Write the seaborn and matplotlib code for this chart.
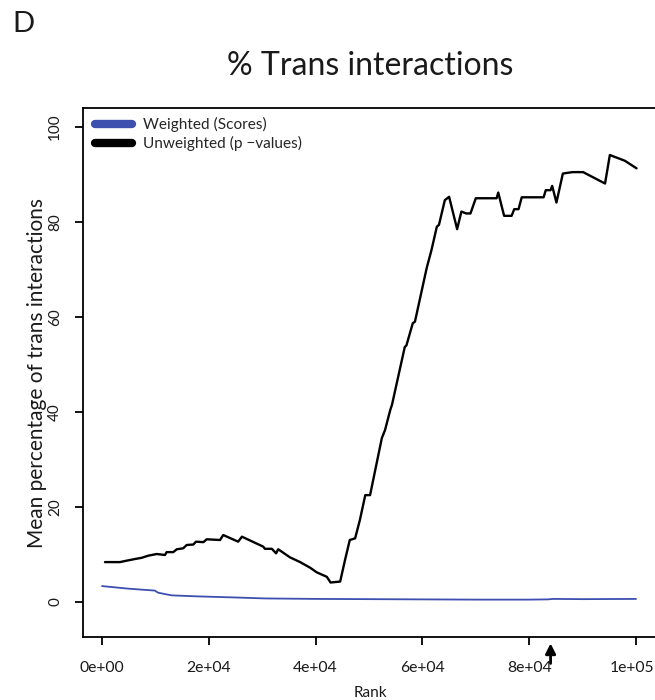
import matplotlib
matplotlib.use("Agg")
import matplotlib.pyplot as plt
import matplotlib.transforms as mtransforms
import seaborn as sns
import pandas as pd
from matplotlib.lines import Line2D

# ---- data ----
unweighted_rank = [560, 3370, 4620, 6180, 7420, 8670, 10240, 11800, 12100, 13350, 14000,
                   15200, 15860, 17100, 17600, 19000, 19600, 22100, 22700, 25500, 26200,
                   30200, 30500, 31800, 32600, 33000, 35200, 37100, 39000, 40200, 42100,
                   42800, 44600, 45500, 46400, 47400, 48300, 49300, 50200, 52400, 53000,
                   54000, 54300, 56700, 57000, 58200, 58600, 60800, 61700, 62700, 63100,
                   64200, 65000, 66500, 67300, 68200, 69000, 70000, 73900, 74200, 75300,
                   76700, 77200, 78000, 78600, 82700, 83100, 84000, 84300, 85100, 86300,
                   88100, 90100, 94200, 95100, 97900, 100100]
unweighted_pct = [8.4, 8.4, 8.7, 9.05, 9.3, 9.75, 10.1, 9.9, 10.5, 10.5, 11.1,
                  11.3, 12.0, 12.1, 12.7, 12.6, 13.2, 13.05, 14.1, 12.7, 13.75,
                  11.65, 11.2, 11.2, 10.25, 11.1, 9.4, 8.4, 7.2, 6.25, 5.3,
                  4.1, 4.3, 8.8, 13.05, 13.4, 17.3, 22.5, 22.5, 34.5, 36.2,
                  40.5, 41.5, 53.7, 54.0, 58.7, 59.0, 70.3, 74.1, 79.0, 79.4,
                  84.6, 85.3, 78.5, 82.2, 81.8, 81.8, 85.0, 85.0, 86.2, 81.3,
                  81.3, 82.7, 82.7, 85.2, 85.2, 86.7, 86.7, 87.6, 84.1, 90.2,
                  90.5, 90.5, 88.1, 94.1, 92.9, 91.3]

weighted_rank = [0, 5000, 9900, 10500, 13000, 17400, 25000, 30500, 40000, 50000,
                 60000, 70000, 80000, 83500, 84500, 90000, 100000]
weighted_pct = [3.35, 2.8, 2.4, 1.96, 1.4, 1.2, 0.95, 0.75, 0.65, 0.6,
                0.55, 0.5, 0.5, 0.55, 0.65, 0.6, 0.65]

series_labels = ["Weighted (Scores)", "Unweighted (p \u2212values)"]
x_ticks = [0, 20000, 40000, 60000, 80000, 100000]
x_tick_labels = ["0e+00", "2e+04", "4e+04", "6e+04", "8e+04", "1e+05"]
y_ticks = [0, 20, 40, 60, 80, 100]
arrow_rank = 84000

# ---- plotting ----
sns.set_theme(style="white")
plt.rcParams["font.family"] = ["Lato", "DejaVu Sans"]
TXT = "#1a1a1a"

df = pd.concat([
    pd.DataFrame({"rank": weighted_rank, "pct": weighted_pct, "series": series_labels[0]}),
    pd.DataFrame({"rank": unweighted_rank, "pct": unweighted_pct, "series": series_labels[1]}),
])

blue = "#3D4FAF"
palette = {series_labels[0]: blue, series_labels[1]: "black"}

fig = plt.figure(figsize=(6.55, 7.0), dpi=100)
W, H = 655, 700
left, right, top, bottom = 83, 657, 108, 637
ax = fig.add_axes([left / W, 1 - bottom / H, (right - left) / W, (bottom - top) / H])

sns.lineplot(data=df[df.series == series_labels[0]], x="rank", y="pct", color=blue,
             estimator=None, sort=False, linewidth=1.3, ax=ax, legend=False)
sns.lineplot(data=df[df.series == series_labels[1]], x="rank", y="pct", color="black",
             estimator=None, sort=False, linewidth=1.7, ax=ax, legend=False)

ax.set_xlim(-3558, 103930)
ax.set_ylim(-7.37, 104.0)
ax.set_xticks(x_ticks)
ax.set_xticklabels(x_tick_labels, fontsize=11.3)
ax.set_yticks(y_ticks)
ax.set_yticklabels([str(v) for v in y_ticks], fontsize=11, rotation=90, va="center")
ax.tick_params(axis="both", direction="out", length=6, width=1.3, color="black",
               labelcolor=TXT, bottom=True, left=True)
ax.tick_params(axis="x", pad=11)
ax.tick_params(axis="y", pad=9)
for s in ax.spines.values():
    s.set_linewidth(1.3)
    s.set_color("black")

# keep the last x tick label inside the canvas (it sits right at the edge)
last = ax.get_xticklabels()[-1]
last.set_transform(last.get_transform() + mtransforms.ScaledTranslation(-4 / 100, 0, fig.dpi_scale_trans))

ax.set_xlabel("Rank", fontsize=11, color=TXT, va="center")
ax.xaxis.set_label_coords(0.5, (bottom - 693) / (bottom - top))
ax.set_ylabel("Mean percentage of trans interactions", fontsize=15, color=TXT, va="center")
ax.yaxis.set_label_coords((37 - left) / (right - left), 0.5)

fig.text((left + right) / 2 / W, 1 - 66 / H, "% Trans interactions", fontsize=23,
         ha="center", va="center", color=TXT)
fig.text(12 / W, 1 - 24 / H, "D", fontsize=21, va="center", ha="left", color=TXT)

handles = [Line2D([0], [0], color=palette[l], linewidth=6, solid_capstyle="round") for l in series_labels]
leg = ax.legend(handles, series_labels, loc="upper left", bbox_to_anchor=(0.005, 1.0),
                frameon=False, fontsize=11.1, handlelength=2.4, handletextpad=0.7,
                labelspacing=0.25, borderaxespad=0.2)

ax.annotate("", xy=(arrow_rank, -0.012), xycoords=("data", "axes fraction"),
            xytext=(arrow_rank, -0.05), textcoords=("data", "axes fraction"),
            arrowprops=dict(arrowstyle="-|>,head_length=0.5,head_width=0.25", color="black",
                            linewidth=2, shrinkA=0, shrinkB=0), annotation_clip=False)

fig.savefig("out.png", dpi=100)
